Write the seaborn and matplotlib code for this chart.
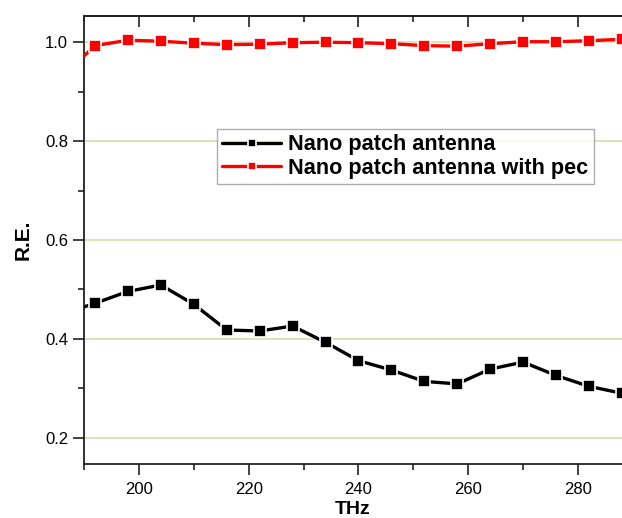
import matplotlib
matplotlib.use("Agg")
import matplotlib.pyplot as plt
import seaborn as sns
import pandas as pd
from matplotlib.ticker import MultipleLocator

# Data
thz = [186, 192, 198, 204, 210, 216, 222, 228, 234, 240, 246, 252, 258, 264, 270, 276, 282, 288]
re_patch = [0.45, 0.472, 0.496, 0.509, 0.470, 0.418, 0.416, 0.426, 0.393, 0.356, 0.337,
            0.314, 0.309, 0.339, 0.353, 0.326, 0.304, 0.290]
re_pec = [0.93, 0.993, 1.004, 1.002, 0.998, 0.995, 0.996, 0.999, 1.000, 0.999, 0.997,
          0.993, 0.992, 0.997, 1.001, 1.001, 1.003, 1.006]
series_names = ["Nano patch antenna", "Nano patch antenna with pec"]
series_colors = ["black", "#ff0000"]
y_ticks = [0.2, 0.4, 0.6, 0.8, 1.0]
y_ticklabels = ["0.2", "0.4", "0.6", "0.8", "1.0"]

sns.set_style("ticks")
plt.rcParams["font.family"] = ["Liberation Sans", "DejaVu Sans"]
plt.rcParams["text.color"] = "black"
plt.rcParams["axes.labelcolor"] = "black"
plt.rcParams["xtick.color"] = "#222222"
plt.rcParams["ytick.color"] = "#222222"
plt.rcParams["xtick.labelcolor"] = "black"
plt.rcParams["ytick.labelcolor"] = "black"

fig = plt.figure(figsize=(6.22, 5.18), dpi=100)
ax = fig.add_axes([84 / 622, 1 - 464 / 518, 1 - 84 / 622, (464 - 16) / 518])

df = pd.DataFrame({"THz": thz * 2,
                   "RE": re_patch + re_pec,
                   "series": [series_names[0]] * len(thz) + [series_names[1]] * len(thz)})

for name, col in zip(series_names, series_colors):
    sub = df[df["series"] == name]
    sns.lineplot(data=sub, x="THz", y="RE", ax=ax, color=col, marker="s",
                 markersize=8.5, markeredgecolor="white", markeredgewidth=1.2,
                 linewidth=2.4, label=name, zorder=3)

ax.set_xlim(190, 288)
ax.set_ylim(0.147, 1.053)
ax.xaxis.set_major_locator(MultipleLocator(20))
ax.xaxis.set_minor_locator(MultipleLocator(10))
ax.yaxis.set_minor_locator(MultipleLocator(0.1))
ax.set_yticks(y_ticks)
ax.set_yticklabels(y_ticklabels)

ax.grid(axis="y", which="major", color="#d9dcae", linewidth=1.2, zorder=0)
ax.set_axisbelow(True)

for s in ["left", "bottom", "top"]:
    ax.spines[s].set_color("#222222")
    ax.spines[s].set_linewidth(1.3)
ax.spines["right"].set_visible(False)

ax.tick_params(axis="both", which="major", labelsize=12, length=8, width=1.2,
               direction="out")
ax.tick_params(axis="both", which="minor", length=4.5, width=1.2, direction="out")
ax.tick_params(axis="x", which="major", pad=5)

# top axis: ticks pointing inward, no labels
top = ax.secondary_xaxis("top")
top.xaxis.set_major_locator(MultipleLocator(20))
top.xaxis.set_minor_locator(MultipleLocator(10))
top.tick_params(axis="x", which="major", direction="in", length=8, width=1.2,
                labeltop=False)
top.tick_params(axis="x", which="minor", direction="in", length=4.5, width=1.2)
top.spines["top"].set_color("#222222")
top.spines["top"].set_linewidth(1.3)

ax.set_xlabel("THz", fontsize=14, fontweight="bold", labelpad=3)
ax.set_ylabel("R.E.", fontsize=15, fontweight="bold", labelpad=9)

leg = ax.legend(loc="upper left", bbox_to_anchor=((217 - 84) / 538, (464 - 129) / 448),
                borderaxespad=0, frameon=True, fancybox=False, handlelength=2.7,
                prop={"size": 15.6, "weight": "bold"}, markerscale=0.6,
                borderpad=0.25, labelspacing=0.1, handletextpad=0.35)
leg.get_frame().set_edgecolor("#999999")
leg.get_frame().set_linewidth(1.0)

fig.savefig("out.png", dpi=100)
